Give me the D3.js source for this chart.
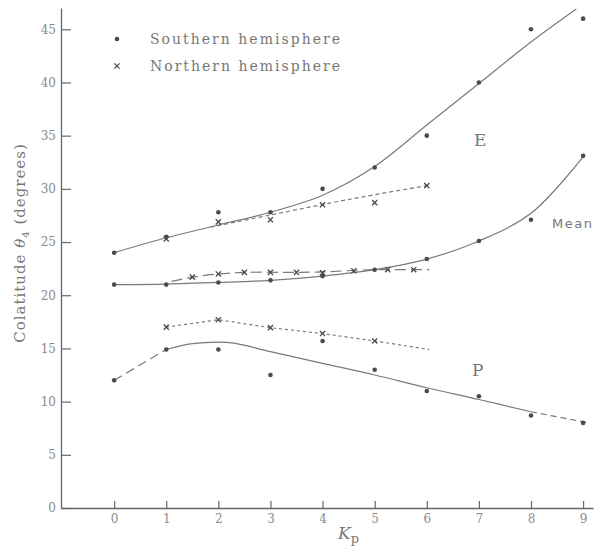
<!DOCTYPE html>
<html><head><meta charset="utf-8">
<script src="https://cdnjs.cloudflare.com/ajax/libs/d3/7.8.5/d3.min.js"></script>
<style>body{margin:0;background:#fff}svg{display:block}</style>
</head><body>
<svg id="c" width="607" height="554"></svg>
<script>
// ---- data ----
const kpTicks = [0,1,2,3,4,5,6,7,8,9];
const yTicks = [0,5,10,15,20,25,30,35,40,45];
// Southern hemisphere points (dots)
const southE = [[0,24],[1,25.5],[2,27.8],[3,27.8],[4,30],[5,32],[6,35],[7,40],[8,45],[9,46]];
const southMean = [[0,21],[1,21],[2,21.2],[3,21.4],[4,21.8],[5,22.4],[6,23.4],[7,25.1],[8,27.1],[9,33.1]];
const southP = [[0,12],[1,14.9],[2,14.9],[3,12.5],[4,15.7],[5,13],[6,11],[7,10.5],[8,8.7],[9,8.0]];
// Northern hemisphere points (crosses)
const northE = [[1,25.3],[2,26.9],[3,27.1],[4,28.5],[5,28.7],[6,30.3]];
const northMean = [[1.5,21.7],[2,22.0],[2.5,22.15],[3,22.15],[3.5,22.15],[4,22.1],[4.6,22.3],[5.25,22.4],[5.75,22.4]];
const northP = [[1,17],[2,17.7],[3,16.95],[4,16.4],[5,15.7]];
// fitted curves
const curveE = [[0,24],[1,25.4],[2,26.6],[3,27.8],[4,29.4],[5,32.1],[6,36.0],[7,39.9],[8,43.8],[8.87,46.9]];
const curveMean = [[0,21],[1,21.05],[2,21.2],[3,21.4],[4,21.8],[5,22.4],[6,23.4],[7,25.1],[8,27.7],[9,33]];
const curveP = [[1,14.9],[1.5,15.45],[2,15.6],[2.3,15.5],[3,14.7],[4,13.6],[5,12.5],[6,11.3],[7,10.2],[8,9.05]];
const curvePLeft = [[0,12],[1,14.9]];
const curvePRight = [[8,9.05],[9.1,8.0]];
const curveNorthE = [[1.85,26.4],[4.5,29.0],[6,30.3]];
const curveNorthMean = [[1.1,21.3],[1.5,21.7],[2,22.0],[2.5,22.15],[3.5,22.15],[4,22.2],[5,22.4],[6.05,22.4]];
const curveNorthP = [[1,17],[2,17.7],[3,16.95],[4,16.4],[5,15.7],[6.05,14.9]];

const svg = d3.select("#c");
const x = d3.scaleLinear().domain([-1.02, 9.19]).range([61, 593]);
const y = d3.scaleLinear().domain([0, 47]).range([508, 8]);

const axisCol = "#666", lineCol = "#7a7a7a", dotCol = "#4a4a4a", textCol = "#777";
const serif = "'DejaVu Serif', 'Liberation Serif', serif";

// axes
const gx = svg.append("g").attr("transform", `translate(0,${y(0)})`)
  .call(d3.axisBottom(x).tickValues(kpTicks).tickSizeInner(-7).tickSizeOuter(0).tickPadding(6));
const gy = svg.append("g").attr("transform", `translate(${x(-1.02)},0)`)
  .call(d3.axisLeft(y).tickValues(yTicks).tickSizeInner(-10).tickSizeOuter(0).tickPadding(5));
[gx, gy].forEach(g => {
  g.select(".domain").attr("stroke", axisCol).attr("stroke-width", 1.3);
  g.selectAll(".tick line").attr("stroke", axisCol).attr("stroke-width", 1.2);
  g.selectAll(".tick text").attr("fill", "#8a8a8a").attr("font-family", serif).attr("font-size", 12);
});

// lines
const line = d3.line().x(d => x(d[0])).y(d => y(d[1]));
function path(data, curve, dash, w) {
  svg.append("path").datum(data)
    .attr("d", line.curve(curve)(data))
    .attr("fill", "none").attr("stroke", lineCol).attr("stroke-width", w || 1.2)
    .attr("stroke-dasharray", dash || null);
}
path(curveE, d3.curveCatmullRom);
path(curveMean, d3.curveCatmullRom);
path(curveP, d3.curveCatmullRom);
path(curvePLeft, d3.curveLinear, "9,5");
path(curvePRight, d3.curveLinear, "6,4");
path(curveNorthE, d3.curveCatmullRom, "4,3");
path(curveNorthMean, d3.curveCatmullRom, "11,5");
path(curveNorthP, d3.curveLinear, "3,3");

// dots
const south = southE.concat(southMean, southP);
svg.append("g").selectAll("circle").data(south).join("circle")
  .attr("cx", d => x(d[0])).attr("cy", d => y(d[1])).attr("r", 2.3).attr("fill", dotCol);
// crosses
const north = northE.concat(northMean, northP);
const cs = 2.6;
svg.append("g").selectAll("path").data(north).join("path")
  .attr("d", d => { const cx = x(d[0]), cy = y(d[1]);
    return `M${cx-cs},${cy-cs}L${cx+cs},${cy+cs}M${cx-cs},${cy+cs}L${cx+cs},${cy-cs}`; })
  .attr("stroke", dotCol).attr("stroke-width", 1.3);

// legend
svg.append("circle").attr("cx", 117).attr("cy", 39).attr("r", 2.3).attr("fill", dotCol);
svg.append("path").attr("d", `M${117-cs},${66-cs}L${117+cs},${66+cs}M${117-cs},${66+cs}L${117+cs},${66-cs}`)
  .attr("stroke", dotCol).attr("stroke-width", 1.3);
svg.append("text").attr("x", 150).attr("y", 44).attr("font-family", serif).attr("font-size", 14)
  .attr("fill", textCol).attr("textLength", 190).attr("lengthAdjust", "spacing").text("Southern hemisphere");
svg.append("text").attr("x", 150).attr("y", 71).attr("font-family", serif).attr("font-size", 14)
  .attr("fill", textCol).attr("textLength", 190).attr("lengthAdjust", "spacing").text("Northern hemisphere");

// curve labels
svg.append("text").attr("x", 474).attr("y", 146).attr("font-family", serif).attr("font-size", 17)
  .attr("fill", textCol).text("E");
svg.append("text").attr("x", 472).attr("y", 376).attr("font-family", serif).attr("font-size", 17)
  .attr("fill", textCol).text("P");
svg.append("text").attr("x", 552).attr("y", 228).attr("font-family", "'DejaVu Sans', sans-serif").attr("font-size", 13)
  .attr("fill", textCol).attr("letter-spacing", 1.5).text("Mean");

// axis titles
const kp = svg.append("text").attr("x", 338).attr("y", 539).attr("font-family", serif)
  .attr("font-size", 17).attr("fill", textCol);
kp.append("tspan").attr("font-style", "italic").text("K");
kp.append("tspan").attr("font-size", 13).attr("dy", 4).text("p");

const yl = svg.append("text").attr("transform", "translate(25,243) rotate(-90)")
  .attr("text-anchor", "middle").attr("font-family", serif).attr("font-size", 15)
  .attr("fill", textCol).attr("letter-spacing", 1);
yl.append("tspan").text("Colatitude ");
yl.append("tspan").attr("font-style", "italic").text("θ");
yl.append("tspan").attr("font-size", 10).attr("dy", 4).text("4");
yl.append("tspan").attr("dy", -4).text("  (degrees)");
</script>
</body></html>
